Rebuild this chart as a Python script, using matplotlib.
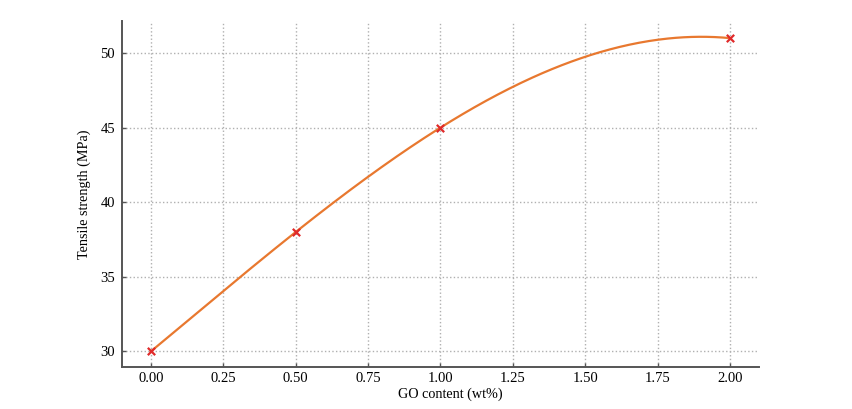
import numpy as np
import matplotlib
matplotlib.use("Agg")
import matplotlib.pyplot as plt

go_content = [0.0, 0.5, 1.0, 2.0]
tensile_strength = [30, 38, 45, 51]

plt.rcParams['font.family'] = ['Liberation Serif', 'DejaVu Serif']

fig = plt.figure(figsize=(8.52, 4.09), dpi=100)
ax = fig.add_axes([0.1432, 0.1027, 0.7476, 0.846])

# smooth curve through the measured points (cubic interpolation)
coef = np.polyfit(go_content, tensile_strength, 3)
xs = np.linspace(min(go_content), max(go_content), 300)
ax.plot(xs, np.polyval(coef, xs), color='#e8782f', lw=1.6, zorder=3)
ax.scatter(go_content, tensile_strength, marker='x', color='#e02a2a', s=28, lw=1.6, zorder=4)

ax.set_xlim(-0.1, 2.1)
ax.set_ylim(28.95, 52.15)
ax.set_xticks(np.arange(0, 2.01, 0.25))
ax.set_xticklabels([f"{v:.2f}" for v in np.arange(0, 2.01, 0.25)])
ax.set_yticks([30, 35, 40, 45, 50])

ax.grid(True, linestyle=':', color='#b0b0b0', lw=1.0)
ax.set_axisbelow(True)
for s in ['top', 'right']:
    ax.spines[s].set_visible(False)
for s in ['left', 'bottom']:
    ax.spines[s].set_color('#555555')
    ax.spines[s].set_linewidth(1.4)
ax.tick_params(direction='in', length=3, width=1, colors='#555555', labelcolor='black', labelsize=10.5)
ax.tick_params(axis='y', pad=5)

ax.set_xlabel('GO content (wt%)', fontsize=10.2)
ax.set_ylabel('Tensile strength (MPa)', fontsize=10.2)
ax.xaxis.set_label_coords(0.515, -0.058)
ax.yaxis.set_label_coords(-0.049, 0.5)

fig.savefig('out.png', dpi=100)
